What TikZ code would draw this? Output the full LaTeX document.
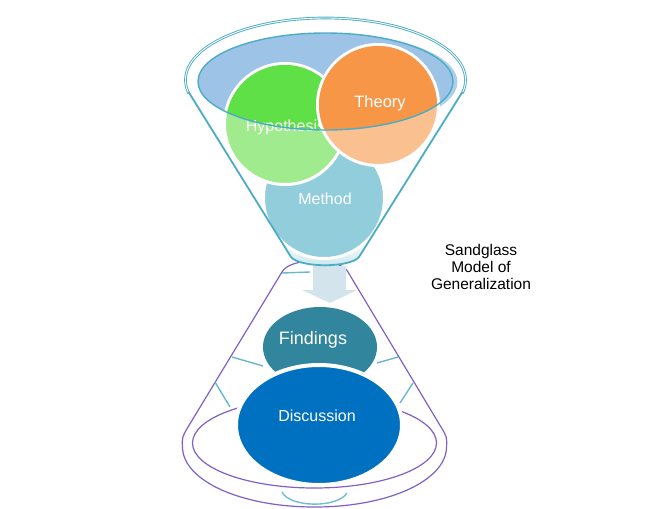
\documentclass[tikz,border=0pt]{standalone}
\usepackage{fontspec}
\setmainfont{Liberation Sans}
\usetikzlibrary{shapes.geometric}

\definecolor{rimteal}{HTML}{4BACC6}
\definecolor{bowlblue}{HTML}{9DC3E6}
\definecolor{bowlshade}{HTML}{AECFEC}
\definecolor{hypdark}{HTML}{5EE046}
\definecolor{hyplight}{HTML}{A1EB8F}
\definecolor{thdark}{HTML}{F79646}
\definecolor{thlight}{HTML}{FAC090}
\definecolor{methfill}{HTML}{92CDDC}
\definecolor{conepurple}{HTML}{7E60C6}
\definecolor{findfill}{HTML}{31859C}
\definecolor{discfill}{HTML}{0070C0}
\definecolor{flowarrow}{HTML}{D3E4EC}
\definecolor{neckshade}{HTML}{C4E4EC}

\tikzset{
  rimline/.style={draw=rimteal, line width=0.9pt, double=white, double distance=0.9pt},
  sideline/.style={draw=rimteal, line width=1.8pt},
  coneline/.style={draw=conepurple, line width=1.2pt},
  spoke/.style={draw=rimteal!85, line width=1.4pt},
  ball/.style={circle, inner sep=0pt, minimum size=121pt, draw=white, line width=3pt},
  blob/.style={ellipse, inner sep=0pt},
  word/.style={text=white, inner sep=0pt, font=\fontsize{16}{18}\selectfont},
}

\begin{document}
\begin{tikzpicture}[x=1pt,y=-1pt]
\useasboundingbox (0,0) rectangle (651,509);

% ---------- lower cone ----------
\draw[coneline] (282,272) .. controls (290,257) and (340,257) .. (348,272)
  -- (440.8,426.7) .. controls (447,437) .. (446.5,448)
  .. controls (445,481) and (388,507) .. (314.5,507)
  .. controls (241,507) and (184,481) .. (182.5,448)
  .. controls (182,437) .. (188.2,426.7) -- cycle;
\draw[coneline] (314.5,443) ellipse [x radius=122, y radius=45];
\draw[draw=rimteal!80, line width=1.4pt] (282,492) .. controls (290,508) and (338,508) .. (347,493);

% inner guide strokes
\coordinate (s1a) at (282,273); \coordinate (s1b) at (310,272);
\coordinate (s2a) at (232,357); \coordinate (s2b) at (263,366);
\coordinate (s3a) at (377,363); \coordinate (s3b) at (398,357);
\coordinate (s4a) at (215,382); \coordinate (s4b) at (230,407);
\coordinate (s5a) at (413,383); \coordinate (s5b) at (400,403);
\draw[spoke] (s1a) -- (s1b);
\draw[spoke] (s2a) -- (s2b);
\draw[spoke] (s3a) -- (s3b);
\draw[spoke] (s4a) -- (s4b);
\draw[spoke] (s5a) -- (s5b);

% flow arrow
\fill[flowarrow] (313,266) -- (346,266) -- (346,290) -- (357,290) -- (330,303)
  -- (302,290) -- (313,290) -- cycle;

% findings and discussion
\node[blob, fill=findfill, minimum width=114pt, minimum height=80pt] (findings) at (320,347) {};
\node[word, font=\fontsize{18}{20}\selectfont] (findingsText) at (313,340) {Findings};
\node[blob, fill=discfill, draw=white, line width=4pt, minimum width=166pt, minimum height=120pt] (discussion) at (319,425) {};
\node[word] (discussionText) at (317,416) {Discussion};

% ---------- upper funnel ----------
% neck shading
\shade[top color=white, bottom color=neckshade] (281,240) -- (291,257)
  .. controls (300,268) and (350,268) .. (359,257) -- (369,240) -- cycle;

% bowl surface
\fill[bowlshade] (330,82) ellipse [x radius=127.5, y radius=48.5];
\fill[bowlblue] (325.5,81.5) ellipse [x radius=127.5, y radius=48.5];

% method
\node[ball, fill=methfill, minimum size=121pt] (method) at (324,198) {};
\node[word] (methodText) at (325,199) {Method};

% hypothesis
\node[ball, fill=hyplight, minimum size=121pt] (hyp) at (285,124) {};
\begin{scope}
  \clip (325.5,81.5) ellipse [x radius=127.5, y radius=48.5];
  \fill[hypdark] (285,124) circle [radius=59];
\end{scope}
\node[word] (hypText) at (285.5,127) {Hypothesis};

% theory
\node[ball, fill=thlight, minimum size=121pt] (theory) at (378,105) {};
\begin{scope}
  \clip (325.5,81.5) ellipse [x radius=127.5, y radius=48.5];
  \fill[thdark] (378,105) circle [radius=59];
\end{scope}
\node[word, font=\fontsize{16.5}{18}\selectfont] (theoryText) at (380,103) {Theory};

% bowl rim
\draw[draw=rimteal, line width=1.4pt] (325.5,81.5) ellipse [x radius=127.5, y radius=48.5];

% funnel outline
\begin{scope}
  \clip (150,0) rectangle (500,93);
  \draw[rimline] (325.5,80) ellipse [x radius=140, y radius=62];
\end{scope}
\draw[sideline] (188.6,92) -- (291,257) .. controls (300,268) and (350,268) .. (359,257) -- (462.4,92);

% caption
\node[align=center, font=\fontsize{15.5}{17}\selectfont, inner sep=0pt] (caption) at (481,267)
  {Sandglass\\Model of\\Generalization};
\end{tikzpicture}
\end{document}
